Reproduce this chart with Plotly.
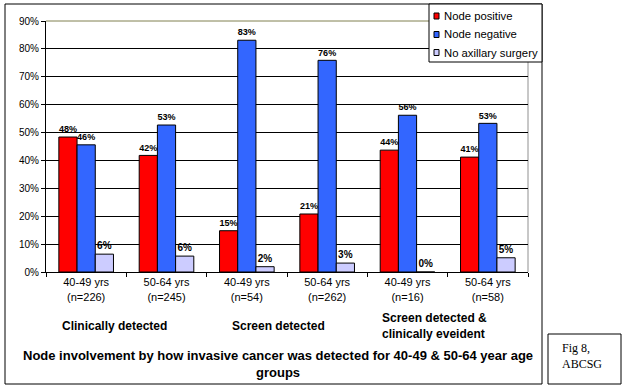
import plotly.graph_objects as go

categories = ["40-49 yrs<br>(n=226)", "50-64 yrs<br>(n=245)", "40-49 yrs<br>(n=54)",
              "50-64 yrs<br>(n=262)", "40-49 yrs<br>(n=16)", "50-64 yrs<br>(n=58)"]
cat_ids = ["c1", "c2", "c3", "c4", "c5", "c6"]
node_positive = [48.4, 41.8, 14.8, 20.8, 43.7, 41.2]
node_negative = [45.6, 52.7, 83.1, 75.9, 56.2, 53.3]
no_axillary = [6.4, 5.7, 1.9, 3.2, 0.0, 5.1]
series_names = ["Node positive", "Node negative", "No axillary surgery"]
series_colors = ["#FF0000", "#3366FF", "#CCCCFF"]
group_labels = ["Clinically detected", "Screen detected", "Screen detected &<br>clinically eveident"]
title_text = "Node involvement by how invasive cancer was detected for 40-49 & 50-64 year age<br>groups"
y_ticks = [0, 10, 20, 30, 40, 50, 60, 70, 80, 90]
y_tick_labels = ["0%", "10%", "20%", "30%", "40%", "50%", "60%", "70%", "80%", "90%"]

# plot area in pixels
PL, PR, PT, PB = 46, 528, 21, 272
W, H = 627, 390


def xp(px):
    return (px - PL) / (PR - PL)


def yp(py):
    return (PB - py) / (PB - PT)


fig = go.Figure()
for name, vals, col in zip(series_names, [node_positive, node_negative, no_axillary], series_colors):
    fig.add_trace(go.Bar(
        x=cat_ids, y=vals, name=name,
        marker=dict(color=col, line=dict(color="black", width=1)),
        text=vals, texttemplate="%{y:.0f}%", textposition="outside",
        textfont=dict(family="Liberation Sans", size=10, color="black", weight="bold"),
        cliponaxis=False, showlegend=False,
    ))

shapes = []
annotations = []
# outer frame
shapes.append(dict(type="rect", xref="paper", yref="paper", x0=xp(5), x1=xp(542), y0=yp(4), y1=yp(384),
                   line=dict(color="black", width=1), layer="below"))
# plot-area top/right border (olive grey)
shapes.append(dict(type="line", xref="paper", yref="paper", x0=0, x1=1, y0=1, y1=1,
                   line=dict(color="#808050", width=1), layer="above"))
shapes.append(dict(type="line", xref="paper", yref="paper", x0=1, x1=1, y0=0, y1=1,
                   line=dict(color="#909090", width=1), layer="below"))
# manual legend
shapes.append(dict(type="rect", xref="paper", yref="paper", x0=xp(429), x1=xp(542), y0=yp(4), y1=yp(62),
                   line=dict(color="black", width=1), fillcolor="white", layer="above"))
leg_y = [16, 34.5, 52.5]
for name, col, ly in zip(series_names, series_colors, leg_y):
    shapes.append(dict(type="rect", xref="paper", yref="paper", x0=xp(434), x1=xp(439),
                       y0=yp(ly + 3), y1=yp(ly - 3), fillcolor=col,
                       line=dict(color="black", width=1), layer="above"))
    annotations.append(dict(xref="paper", yref="paper", x=xp(442), y=yp(ly), text=name,
                            showarrow=False, xanchor="left", yanchor="middle",
                            font=dict(family="Liberation Sans", size=11.3, color="black")))
# group labels
annotations.append(dict(xref="paper", yref="paper", x=xp(114), y=yp(326), text=group_labels[0],
                        showarrow=False, xanchor="center", yanchor="middle",
                        font=dict(family="Liberation Sans", size=12, color="black", weight="bold")))
annotations.append(dict(xref="paper", yref="paper", x=xp(278), y=yp(326), text=group_labels[1],
                        showarrow=False, xanchor="center", yanchor="middle",
                        font=dict(family="Liberation Sans", size=12, color="black", weight="bold")))
annotations.append(dict(xref="paper", yref="paper", x=xp(380), y=yp(326), text=group_labels[2],
                        showarrow=False, xanchor="left", yanchor="middle", align="left",
                        font=dict(family="Liberation Sans", size=12, color="black", weight="bold")))
# title
annotations.append(dict(xref="paper", yref="paper", x=xp(278), y=yp(364), text=title_text,
                        showarrow=False, xanchor="center", yanchor="middle", align="center",
                        font=dict(family="Liberation Sans", size=13, color="black", weight="bold")))
# Fig 8 box
shapes.append(dict(type="rect", xref="paper", yref="paper", x0=xp(548), x1=xp(621), y0=yp(334), y1=yp(384),
                   line=dict(color="black", width=1)))
annotations.append(dict(xref="paper", yref="paper", x=xp(560), y=yp(356), text="Fig 8,<br>ABCSG",
                        showarrow=False, xanchor="left", yanchor="middle", align="left",
                        font=dict(family="Liberation Serif", size=12, color="black")))

fig.update_layout(
    width=W, height=H,
    margin=dict(l=PL, r=W - PR, t=PT, b=H - PB, pad=0),
    paper_bgcolor="white", plot_bgcolor="white",
    barmode="group", bargap=0.32, bargroupgap=0,
    shapes=shapes, annotations=annotations,
    showlegend=False,
    font=dict(family="Liberation Sans", color="black"),
    xaxis=dict(
        tickmode="array", tickvals=cat_ids, ticktext=categories,
        ticks="outside", tickson="boundaries", ticklen=4, tickcolor="black",
        showline=True, linecolor="black", linewidth=1,
        tickfont=dict(family="Liberation Sans", size=11, color="black"),
        showgrid=False,
    ),
    yaxis=dict(
        range=[0, 90], tickmode="array", tickvals=y_ticks, ticktext=y_tick_labels,
        ticks="outside", ticklen=4, tickcolor="black",
        showline=True, linecolor="black", linewidth=1,
        showgrid=True, gridcolor="black", gridwidth=1,
        tickfont=dict(family="Liberation Sans", size=10, color="black"),
        zeroline=False,
    ),
)

fig.write_html("out.html", config={"displayModeBar": False},
               post_script="document.body.style.margin='0';")
